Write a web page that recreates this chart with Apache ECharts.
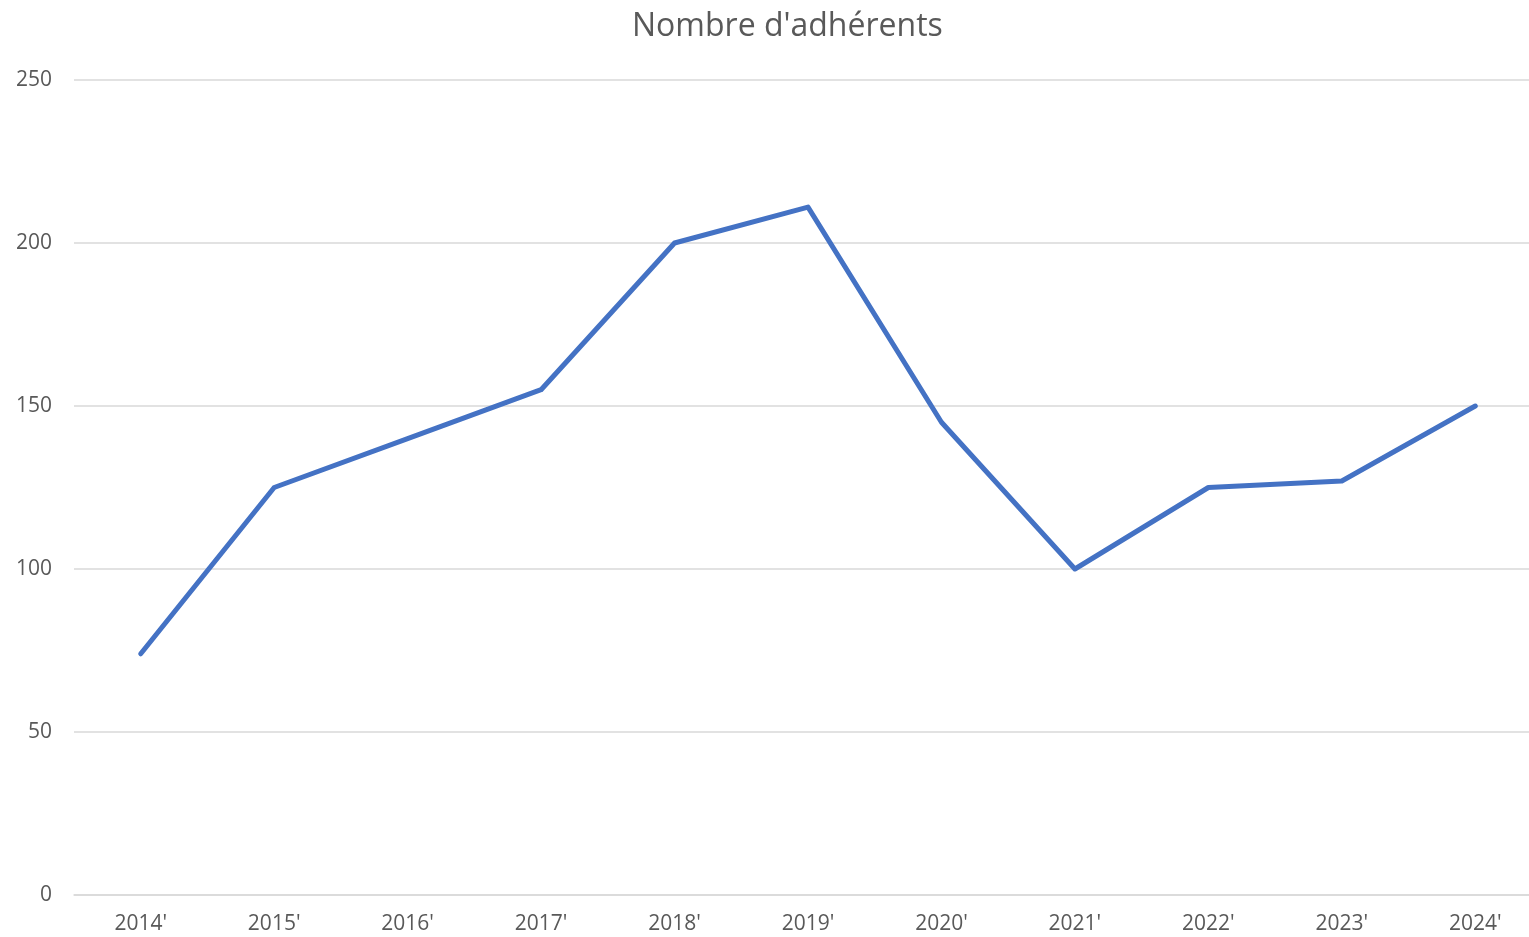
<!DOCTYPE html>
<html>
<head>
<meta charset="utf-8">
<script src="https://cdn.jsdelivr.net/npm/echarts@6/dist/echarts.min.js"></script>
<style>
html,body{margin:0;padding:0;background:#fff;overflow:hidden;width:1529px;height:937px;}
#chart{width:1542px;height:937px;}
</style>
</head>
<body>
<div id="chart"></div>
<script>
const titleText = "Nombre d'adhérents";
const categories = ["2014'", "2015'", "2016'", "2017'", "2018'", "2019'", "2020'", "2021'", "2022'", "2023'", "2024'"];
const members = [74, 125, 140, 155, 200, 211, 145, 100, 125, 127, 150];
const yMin = 0, yMax = 250, yStep = 50;

const chart = echarts.init(document.getElementById('chart'));
chart.setOption({
  backgroundColor: '#ffffff',
  animation: false,
  title: {
    text: titleText,
    left: 627,
    top: 6,
    textStyle: { fontFamily: 'Open Sans', fontSize: 32, fontWeight: 'normal', color: '#595959' }
  },
  grid: { left: 74, top: 80, right: 0, bottom: 42, containLabel: false },
  xAxis: {
    type: 'category',
    data: categories,
    boundaryGap: true,
    axisLine: { show: true, lineStyle: { color: '#d9d9d9', width: 1.5 } },
    axisTick: { show: false },
    axisLabel: { fontFamily: 'Open Sans', fontSize: 21, color: '#595959', margin: 19 }
  },
  yAxis: {
    type: 'value',
    min: yMin, max: yMax, interval: yStep,
    axisLine: { show: false },
    axisTick: { show: false },
    splitLine: { lineStyle: { color: '#d9d9d9', width: 1.5 } },
    axisLabel: { fontFamily: 'Open Sans', fontSize: 21, color: '#595959', margin: 22 }
  },
  series: [{
    type: 'line',
    data: members,
    symbol: 'none',
    lineStyle: { color: '#4472c4', width: 5, cap: 'round', join: 'round' },
    itemStyle: { color: '#4472c4' }
  }]
});
</script>
</body>
</html>
